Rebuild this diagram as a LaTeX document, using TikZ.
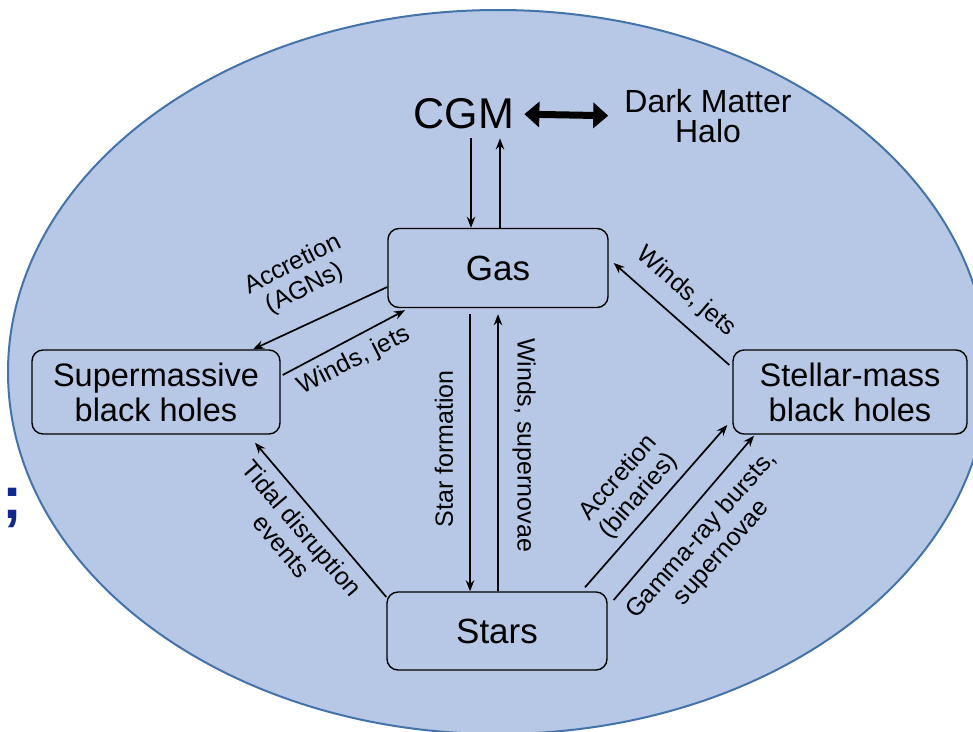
\documentclass[tikz,border=0pt]{standalone}
\usepackage{fontspec}
\setmainfont{Liberation Sans}
\usetikzlibrary{arrows.meta,calc,positioning}
\definecolor{halofill}{RGB}{182,200,229}
\definecolor{haloline}{RGB}{68,114,170}
\definecolor{slideblue}{RGB}{16,40,140}

\tikzset{
  box/.style={draw, rounded corners=11pt, line width=1.4pt, align=center, inner sep=4pt,
    font=\fontsize{32.5}{35}\selectfont},
  bigbox/.style={box, font=\fontsize{35}{38}\selectfont},
  flow/.style={-{Stealth[length=11pt,width=8.5pt]}, line width=1.7pt},
  lbl/.style={align=center, inner sep=0pt, font=\fontsize{25}{27}\selectfont}
}

\begin{document}
\begin{tikzpicture}[x=1pt,y=-1pt]
\useasboundingbox (0,0) rectangle (973,731);

% halo
\draw[haloline, fill=halofill, line width=2pt] (498,372) ellipse [x radius=490, y radius=362];
\node[text=slideblue, inner sep=0pt, font=\fontsize{60}{60}\selectfont\bfseries] (semi) at (12,508) {;};

% boxes
\node[bigbox, minimum width=220pt, minimum height=79pt] (gas) at (498,268) {Gas};
\node[box, minimum width=248pt, minimum height=84pt] (smbh) at (156,392) {Supermassive\\black holes};
\node[box, minimum width=234pt, minimum height=84pt] (stellar) at (850,392) {Stellar-mass\\black holes};
\node[bigbox, minimum width=220pt, minimum height=78pt] (stars) at (497,631) {Stars};

\node[inner sep=0pt, font=\fontsize{43}{46}\selectfont] (cgm) at (464,114) {CGM};
\node[align=center, inner sep=0pt, font=\fontsize{32}{30}\selectfont] (dmh) at (708,116) {Dark Matter\\Halo};

\draw[line width=7pt, {Triangle[length=15pt,width=25pt]}-{Triangle[length=15pt,width=25pt]},
  shorten <=10pt, shorten >=16pt] (cgm.east) -- (dmh.west);

% CGM <-> gas
\draw[flow] ($(cgm.south)+(7,9)$) -- ($(gas.north)+(-27,0)$);
\draw[flow] ($(gas.north)+(2,0)$) -- ($(cgm.south)+(36,9)$);

% gas <-> supermassive
\draw[flow] ($(gas.west)+(0,19)$) -- ($(smbh.north)+(97,0)$);
\draw[flow] ($(smbh.east)+(2,-17)$) -- ($(gas.south)+(-93,2)$);
\node[lbl, rotate=26.6] (agn) at (299,277) {Accretion\\(AGNs)};
\node[lbl, rotate=27] (wj1) at (354,361) {Winds, jets};

% stellar-mass -> gas
\draw[flow] ($(stellar.west)+(-3,-27)$) -- ($(gas.east)+(5,-5)$);
\node[lbl, rotate=-41] (wj2) at (686,292) {Winds, jets};

% gas <-> stars
\draw[flow, shorten <=6pt] ($(gas.south)+(-28,0)$) -- ($(stars.north)+(-27,0)$);
\draw[flow, shorten >=6pt] ($(stars.north)+(1,0)$) -- ($(gas.south)+(0,0)$);
\node[lbl, rotate=90] (sf) at (444,449) {Star formation};
\node[lbl, rotate=-90] (wsn) at (524,445) {Winds, supernovae};

% stars -> supermassive
\draw[flow] ($(stars.west)+(0,-34)$) -- ($(smbh.south)+(99,8)$);
\node[lbl, rotate=-49.6] (tde) at (292,537) {Tidal disruption\\events};

% stars -> stellar-mass
\draw[flow] ($(stars.north)+(88,-4)$) -- ($(stellar.west)+(-5,33)$);
\draw[flow] ($(stars.east)+(6,-31)$) -- ($(stellar.south)+(-96,1)$);
\node[lbl, rotate=48.7] (abin) at (629,487) {Accretion\\(binaries)};
\node[lbl, rotate=48.7] (grb) at (712,544) {Gamma-ray bursts,\\supernovae};
\end{tikzpicture}
\end{document}
